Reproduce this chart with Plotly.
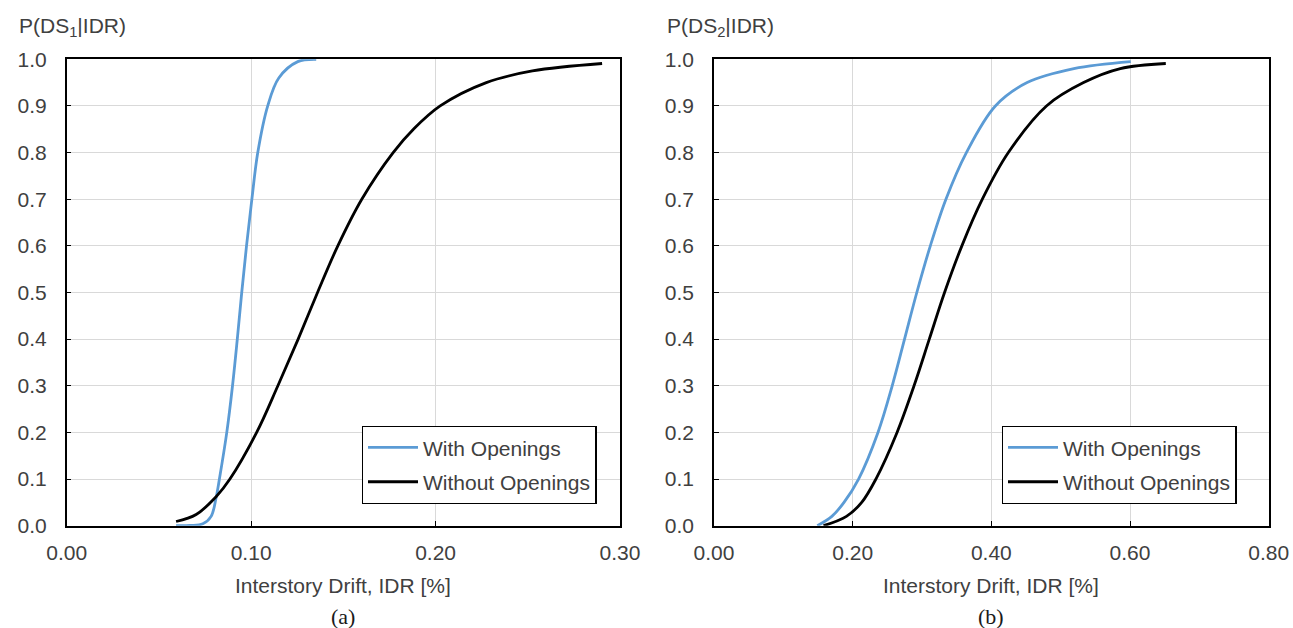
import plotly.graph_objects as go

# Fragility curves: probability of exceeding damage state vs interstory drift (%)
# Panel (a): DS1
ds1_with_idr = [0.0593, 0.0670, 0.0738, 0.0783, 0.0810, 0.0828, 0.0868, 0.0899, 0.0925,
                0.0949, 0.0975, 0.1004, 0.1036, 0.1090, 0.1150, 0.1253, 0.1353]
ds1_with_p = [0.000, 0.0005, 0.004, 0.020, 0.060, 0.100, 0.200, 0.300, 0.400,
              0.500, 0.600, 0.700, 0.800, 0.900, 0.960, 0.995, 1.000]

ds1_without_idr = [0.0593, 0.0702, 0.0810, 0.0885, 0.1030, 0.1145, 0.1255, 0.1360,
                   0.1470, 0.1600, 0.1770, 0.1880, 0.2025, 0.2275, 0.2525, 0.2903]
ds1_without_p = [0.009, 0.024, 0.062, 0.100, 0.200, 0.300, 0.400, 0.500,
                 0.600, 0.700, 0.800, 0.850, 0.900, 0.950, 0.975, 0.991]

# Panel (b): DS2
ds2_with_idr = [0.149, 0.170, 0.1875, 0.2085, 0.2365, 0.2570, 0.2748, 0.2925, 0.3120,
                0.3345, 0.3640, 0.4058, 0.4516, 0.519, 0.601]
ds2_with_p = [0.000, 0.020, 0.050, 0.100, 0.200, 0.300, 0.400, 0.500, 0.600,
              0.700, 0.800, 0.900, 0.950, 0.980, 0.995]

ds2_without_idr = [0.158, 0.191, 0.213, 0.2335, 0.2640, 0.2885, 0.3105, 0.3325, 0.3575,
                   0.3870, 0.4245, 0.4795, 0.533, 0.586, 0.6516]
ds2_without_p = [0.000, 0.020, 0.050, 0.100, 0.200, 0.300, 0.400, 0.500, 0.600,
                 0.700, 0.800, 0.900, 0.950, 0.980, 0.991]

series_names = ["With Openings", "Without Openings"]
x_title = "Interstory Drift, IDR [%]"
y_titles = ["P(DS<sub>1</sub>|IDR)", "P(DS<sub>2</sub>|IDR)"]
panel_labels = ["(a)", "(b)"]
x_ranges = [[0, 0.30], [0, 0.80]]
x_dticks = [0.10, 0.20]

BLUE = "#5B9BD5"
BLACK = "#000000"
TEXT = "#404040"
GRID = "#d9d9d9"
FONT = "Liberation Sans, Arial, sans-serif"

W, H = 1293, 628
fig = go.Figure()

panels = [
    (ds1_with_idr, ds1_with_p, ds1_without_idr, ds1_without_p, "x", "y", "legend"),
    (ds2_with_idr, ds2_with_p, ds2_without_idr, ds2_without_p, "x2", "y2", "legend2"),
]
for k, (xw, pw, xo, po, xa, ya, lg) in enumerate(panels):
    fig.add_trace(go.Scatter(x=xw, y=pw, mode="lines", name=series_names[0],
                             line=dict(color=BLUE, width=2.8, shape="spline", smoothing=1.0),
                             xaxis=xa, yaxis=ya, legend=lg, legendgroup=f"w{k}"))
    fig.add_trace(go.Scatter(x=xo, y=po, mode="lines", name=series_names[1],
                             line=dict(color=BLACK, width=2.8, shape="spline", smoothing=1.0),
                             xaxis=xa, yaxis=ya, legend=lg, legendgroup=f"o{k}"))

# plot areas in pixels
left_px = [(66.7, 620.0), (714.0, 1268.7)]
top_px, bottom_px = 59.3, 525.7
ydom = [1 - bottom_px / H, 1 - top_px / H]

common_axis = dict(showline=True, linecolor="black", linewidth=1.5, mirror=True,
                   showgrid=True, gridcolor=GRID, gridwidth=1.3, zeroline=False,
                   ticks="inside", ticklen=5, tickcolor="black", tickwidth=1.3,
                   automargin=False,
                   tickfont=dict(family=FONT, size=21, color=TEXT))

for i, (l, r) in enumerate(left_px):
    sx = "" if i == 0 else "2"
    fig.layout["xaxis" + sx] = dict(common_axis, domain=[l / W, r / W], range=x_ranges[i],
                                    dtick=x_dticks[i], tick0=0, tickformat=".2f",
                                    anchor="y" + sx, ticklabelstandoff=7)
    fig.layout["yaxis" + sx] = dict(common_axis, domain=ydom, range=[0, 1], dtick=0.1,
                                    tick0=0, tickformat=".1f", anchor="x" + sx,
                                    ticklabelstandoff=14)

annotations = []
title_left = [17, 665]
for i, (l, r) in enumerate(left_px):
    cx = (l + r) / 2 / W
    annotations.append(dict(text=y_titles[i], x=title_left[i] / W, y=1 - 27 / H,
                            xref="paper", yref="paper", xanchor="left", yanchor="middle",
                            showarrow=False, font=dict(family=FONT, size=21, color=TEXT)))
    annotations.append(dict(text=x_title, x=cx, y=1 - 585 / H, xref="paper", yref="paper",
                            xanchor="center", yanchor="middle", showarrow=False,
                            font=dict(family=FONT, size=21, color=TEXT)))
    annotations.append(dict(text=panel_labels[i], x=cx, y=1 - 616 / H, xref="paper",
                            yref="paper", xanchor="center", yanchor="middle", showarrow=False,
                            font=dict(family="Liberation Serif, Times New Roman, serif",
                                      size=22, color="#1a1a1a")))

legend_style = dict(bgcolor="white", bordercolor="black", borderwidth=1.3,
                    font=dict(family=FONT, size=21, color=TEXT),
                    xanchor="left", yanchor="top", itemwidth=50, tracegroupgap=4)
fig.update_layout(
    width=W, height=H, margin=dict(l=0, r=0, t=0, b=0),
    plot_bgcolor="white", paper_bgcolor="white",
    annotations=annotations, showlegend=True,
    legend=dict(legend_style, x=361.7 / W, y=1 - 426 / H),
    legend2=dict(legend_style, x=1001.7 / W, y=1 - 426 / H),
)

fig.write_html("out.html")
